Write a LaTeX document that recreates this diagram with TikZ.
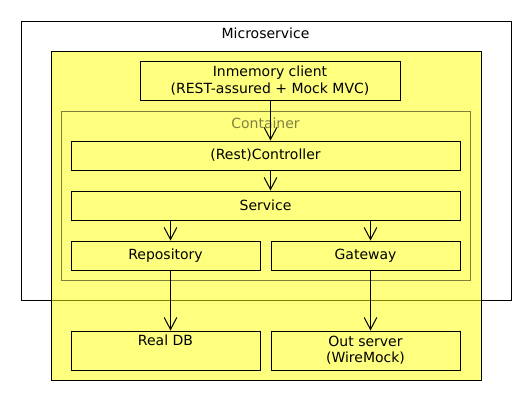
\documentclass[tikz,border=0pt]{standalone}
\usepackage{fontspec}
\setmainfont{DejaVu Sans}
\usetikzlibrary{arrows.meta}
\begin{document}
\begin{tikzpicture}[x=0.75pt,y=-0.75pt,
  font=\fontsize{10.5}{12.2}\selectfont,
  box/.style={draw=black,line width=0.75pt,inner sep=0pt,align=center,anchor=north west},
  arr/.style={line width=0.75pt,-{Straight Barb[length=9pt,width=9.5pt,line width=0.75pt]}}]
\useasboundingbox (0,0) rectangle (530,400);
\begin{scope}[shift={(0.5,0.5)}]
% Microservice frame
\node[box,fill=white,minimum width=490*0.75pt,minimum height=279*0.75pt] (ms) at (20,20) {};
\node (mstitle) at (265,33) {Microservice};
% yellow outer area
\node[box,fill={rgb,255:red,255;green,255;blue,0},fill opacity=0.5,text opacity=1,minimum width=430*0.75pt,minimum height=329*0.75pt] (yl) at (50,50) {};
% container
\node[box,draw=black,draw opacity=0.5,minimum width=409*0.75pt,minimum height=169*0.75pt] (ct) at (60,110) {};
\node[text=black,text opacity=0.5] (cttitle) at (265,123) {Container};
% boxes
\node[box,minimum width=260*0.75pt,minimum height=39*0.75pt] (client) at (139,60) {Inmemory client\\(REST-assured + Mock MVC)};
\node[box,minimum width=389*0.75pt,minimum height=29*0.75pt] (ctrl) at (70,140) {(Rest)Controller};
\node[box,minimum width=389*0.75pt,minimum height=29*0.75pt] (svc) at (70,190) {Service};
\node[box,minimum width=189*0.75pt,minimum height=29*0.75pt] (repo) at (70,240) {Repository};
\node[box,minimum width=189*0.75pt,minimum height=29*0.75pt] (gw) at (270,240) {Gateway};
\node[box,minimum width=189*0.75pt,minimum height=39*0.75pt] (db) at (70,330) {Real DB\\\strut};
\node[box,minimum width=189*0.75pt,minimum height=39*0.75pt] (out) at (270,330) {Out server\\(WireMock)};
% connector columns
\coordinate (cm) at (270,0);
\coordinate (cl) at (170,0);
\coordinate (cr) at (370,0);
% arrows
\draw[arr] (client.south -| cm) -- (ctrl.north -| cm);
\draw[arr] (ctrl.south -| cm) -- (svc.north -| cm);
\draw[arr] (svc.south -| cl) -- (repo.north -| cl);
\draw[arr] (svc.south -| cr) -- (gw.north -| cr);
\draw[arr] (repo.south -| cl) -- (db.north -| cl);
\draw[arr] (gw.south -| cr) -- (out.north -| cr);
\end{scope}
\end{tikzpicture}
\end{document}
